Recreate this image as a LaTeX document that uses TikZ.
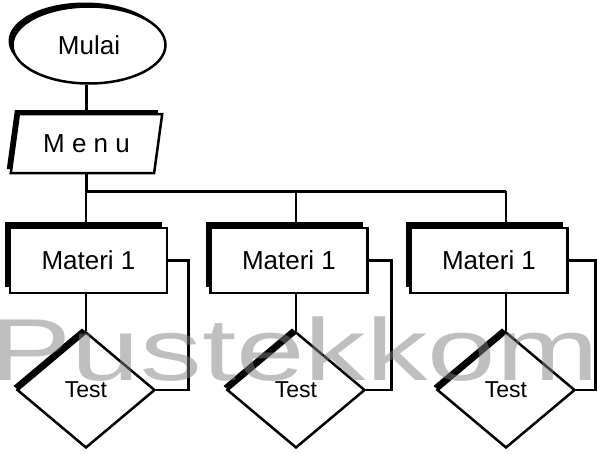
\documentclass[tikz,border=0pt]{standalone}
\usepackage{fontspec}
\setmainfont{Liberation Sans}
\usetikzlibrary{shapes.geometric,shadows,backgrounds}

\begin{document}
\begin{tikzpicture}[x=1pt, y=-1pt, line width=2.5pt,
    blackshadow/.style={drop shadow={shadow xshift=-#1, shadow yshift=#1, fill=black, opacity=1}},
    terminal/.style={ellipse, draw, fill=white, minimum width=153pt, minimum height=77pt, inner sep=0pt,
        font=\fontsize{26}{30}\selectfont, blackshadow=4pt},
    io/.style={trapezium, trapezium left angle=74, trapezium right angle=106, trapezium stretches=true,
        draw, fill=white, minimum width=153pt, minimum height=59pt, inner sep=0pt,
        font=\fontsize{26}{30}\selectfont, blackshadow=4pt},
    proc/.style={rectangle, draw, fill=white, minimum width=157pt, minimum height=65pt,
        font=\fontsize{26}{30}\selectfont,
        drop shadow={shadow xshift=-5pt, shadow yshift=6pt, fill=black, opacity=1}},
    decision/.style={diamond, draw, fill=white, minimum width=138pt, minimum height=116pt, inner sep=0pt,
        aspect=1.2, font=\fontsize{23}{26}\selectfont, blackshadow=4pt},
    flow/.style={draw, line width=2.5pt},
    stamp/.style={anchor=base west, inner sep=0pt, text=black!50, opacity=0.5,
        font=\fontsize{88}{90}\selectfont, xscale=1.4, transform shape}
  ]
  \useasboundingbox (0,0) rectangle (597,453);

  \node[terminal] (mulai) at (89,45) {Mulai};
  \node[io] (menu) at (86.5,143.5) {M e n u};
  \foreach \i/\bx/\cx in {1/88.5/86, 2/289/296, 3/489/506} {
    \node[proc] (materi\i) at (\bx,260.5) {Materi 1};
    \node[decision] (test\i) at (\cx,390) {Test};
  }

  % connectors go under the boxes
  \begin{scope}[on background layer]
    \path[flow] (menu.north) -- (menu.north |- mulai.south);
    \path[flow] (menu.south) -- ++(0,17) coordinate (bus) -- (test3.north |- bus);
    \foreach \i in {1,2,3}
      \path[flow] (test\i.north) -- (test\i.north |- bus);
    % loop back from each test to its materi
    \foreach \i/\dx in {1/20, 2/22.5, 3/26.5}
      \path[flow] (test\i.east) -| ([xshift=\dx pt]materi\i.east) -- (materi\i.east);
  \end{scope}

  \node[stamp] (logo) at (-12,380) {Pustekkom};
\end{tikzpicture}
\end{document}
